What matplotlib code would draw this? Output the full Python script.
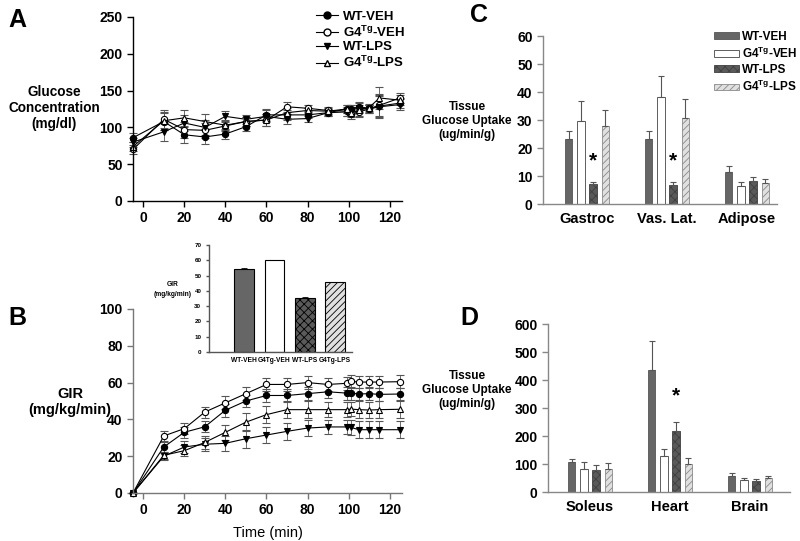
import matplotlib
matplotlib.use('Agg')
import matplotlib.pyplot as plt
from matplotlib.lines import Line2D
import numpy as np

plt.rcParams['font.family'] = ['Liberation Sans', 'DejaVu Sans']
plt.rcParams['font.weight'] = 'bold'
plt.rcParams['mathtext.fontset'] = 'custom'
plt.rcParams['mathtext.bf'] = 'Liberation Sans:bold'
plt.rcParams['mathtext.rm'] = 'Liberation Sans:bold'
plt.rcParams['hatch.linewidth'] = 0.6

# time points (min)
t = [-5, 10, 20, 30, 40, 50, 60, 70, 80, 90, 99, 101, 105, 110, 115, 125]

# panel A: glucose concentration (mg/dl)
glc_wt_veh = [86, 108, 90, 87, 91, 101, 117, 117, 117, 120, 125, 125, 128, 126, 129, 133]
glc_g4_veh = [70, 111, 97, 96, 102, 108, 110, 128, 126, 123, 122, 118, 121, 125, 130, 140]
glc_wt_lps = [80, 94, 106, 100, 115, 111, 115, 111, 112, 120, 121, 124, 126, 125, 128, 131]
glc_g4_lps = [74, 109, 113, 108, 103, 108, 110, 120, 123, 122, 125, 120, 123, 127, 140, 137]
glc_err = [6, 12, 11, 10, 7, 6, 8, 7, 4, 5, 6, 6, 7, 5, 15, 7]

# panel B: GIR (mg/kg/min)
gir_wt_veh = [0, 25, 33, 36, 45, 50, 53, 53, 54, 55, 54.3, 54.3, 53.8, 54, 53.6, 53.8]
gir_g4_veh = [0, 31, 35, 44, 49, 54, 59, 59, 60, 59, 59.6, 60.7, 60.3, 60.3, 60.3, 60.5]
gir_wt_lps = [0, 20, 25, 26.5, 27, 29.5, 31.5, 33.5, 35.3, 35.9, 35.9, 35.7, 34.4, 34.4, 34.4, 34.4]
gir_g4_lps = [0, 20.5, 23, 27.5, 33, 38.5, 42.6, 45.3, 45.3, 45.3, 45.3, 45.6, 45.3, 45.1, 45.3, 45.5]
gir_err_veh = [0, 2.5, 3, 3, 3.5, 3.5, 3.5, 3.5, 3.5, 3.5, 3.5, 3.5, 3.5, 3.5, 3.5, 3.5]
gir_err_lps = [0, 2, 3, 3.5, 4, 5, 4.5, 4.5, 4.5, 4, 4, 4, 4.5, 4.5, 4.5, 4.5]

# inset: mean GIR
inset_labels = ['WT-VEH', 'G4Tg-VEH', 'WT-LPS', 'G4Tg-LPS']
inset_vals = [54.6, 60.0, 35.6, 45.8]
inset_err = [0.6, 0.2, 0.5, 0.2]

# panel C / D: tissue glucose uptake (ug/min/g)
groups_c = ['Gastroc', 'Vas. Lat.', 'Adipose']
tgu_c = {
    'WT-VEH': ([23.2, 23.2, 11.4], [2.9, 2.9, 2.3]),
    'G4-VEH': ([29.8, 38.1, 6.4], [7.0, 7.6, 1.4]),
    'WT-LPS': ([7.2, 6.9, 8.3], [0.6, 0.9, 1.3]),
    'G4-LPS': ([27.7, 30.7, 7.5], [5.9, 6.8, 1.5]),
}
groups_d = ['Soleus', 'Heart', 'Brain']
tgu_d = {
    'WT-VEH': ([107, 435, 56], [12, 103, 13]),
    'G4-VEH': ([83, 130, 44], [25, 24, 7]),
    'WT-LPS': ([80, 217, 40], [15, 32, 5]),
    'G4-LPS': ([83, 101, 50], [22, 22, 8]),
}

legend_names = ['WT-VEH', r'G4$^{\mathbf{Tg}}$-VEH', 'WT-LPS', r'G4$^{\mathbf{Tg}}$-LPS']

W, H = 800, 541
fig = plt.figure(figsize=(W / 100, H / 100), dpi=100)


def px_axes(l, t_, r, b):
    return fig.add_axes([l / W, 1 - b / H, (r - l) / W, (b - t_) / H])


def style(ax, color='#333333', size=10):
    for s in ['top', 'right']:
        ax.spines[s].set_visible(False)
    for s in ['left', 'bottom']:
        ax.spines[s].set_color(color)
        ax.spines[s].set_linewidth(1)
    ax.tick_params(direction='out', length=4, width=1, color=color, labelsize=size)


# line styles: marker, facecolor
lines = [('o', 'black'), ('o', 'white'), ('v', 'black'), ('^', 'white')]

# --- A ---
axA = px_axes(133, 17, 402, 201)
style(axA, 'black')
for (m, fc), y in zip(lines, [glc_wt_veh, glc_g4_veh, glc_wt_lps, glc_g4_lps]):
    axA.errorbar(t, y, yerr=glc_err, color='black', lw=0.8, marker=m, mfc=fc, mec='black',
                 ms=4.5, mew=0.8, elinewidth=0.6, ecolor='#555555', capsize=3, capthick=0.6,
                 clip_on=False)
axA.set_xlim(-5, 126)
axA.set_ylim(0, 250)
axA.set_xticks(range(0, 121, 20))
axA.set_yticks(range(0, 251, 50))
handlesA = [Line2D([], [], color='black', lw=0.8, marker=m, mfc=fc, mec='black', ms=5)
            for m, fc in lines]
axA.legend(handlesA, legend_names, loc='upper left', bbox_to_anchor=(309 / W, 1 - 4 / H),
           bbox_transform=fig.transFigure, frameon=False, fontsize=9.5, handlelength=1.7,
           labelspacing=0.12, handletextpad=0.4, borderpad=0)
fig.text(54 / W, 1 - 108 / H, 'Glucose\nConcentration\n(mg/dl)', ha='center', va='center',
         fontsize=9.8, linespacing=1.15)
fig.text(8 / W, 1 - 20 / H, 'A', fontsize=18, va='center')

# --- B ---
axB = px_axes(133, 309, 402, 493)
style(axB, '#777777')
for (m, fc), y, e in zip(lines, [gir_wt_veh, gir_g4_veh, gir_wt_lps, gir_g4_lps],
                         [gir_err_veh, gir_err_veh, gir_err_lps, gir_err_lps]):
    axB.errorbar(t, y, yerr=e, color='black', lw=0.8, marker=m, mfc=fc, mec='black',
                 ms=4.5, mew=0.8, elinewidth=0.6, ecolor='#555555', capsize=3, capthick=0.6,
                 clip_on=False)
axB.set_xlim(-5, 126)
axB.set_ylim(0, 100)
axB.set_xticks(range(0, 121, 20))
axB.set_yticks(range(0, 101, 20))
axB.set_xlabel('Time (min)', fontsize=10.5, labelpad=6)
fig.text(70 / W, 1 - 402 / H, 'GIR\n(mg/kg/min)', ha='center', va='center', fontsize=10.5,
         linespacing=1.15)
fig.text(8 / W, 1 - 318 / H, 'B', fontsize=18, va='center')

# colours / hatches for the 4 groups
bar_style = [
    dict(color='#666666', edgecolor='#555555', hatch=None),
    dict(color='white', edgecolor='#444444', hatch=None),
    dict(color='#5a5a5a', edgecolor='#404040', hatch='xxxx'),
    dict(color='#e0e0e0', edgecolor='#8a8a8a', hatch='/////'),
]

# --- inset ---
axI = px_axes(209, 245, 352, 352)
style(axI, '#555555')
axI.tick_params(labelsize=4.5, length=2)
xi = np.arange(len(inset_vals))
for i in range(len(inset_vals)):
    st = bar_style[i]
    axI.bar(xi[i], inset_vals[i], width=0.65, color=st['color'], edgecolor='black',
            hatch=st['hatch'], lw=0.8, yerr=[[0], [inset_err[i]]], capsize=2,
            error_kw=dict(elinewidth=0.6, capthick=0.6))
axI.set_xlim(-1.15, 3.55)
axI.set_ylim(0, 70)
axI.set_yticks(range(0, 71, 10))
axI.set_xticks(xi)
axI.set_xticklabels(inset_labels, fontsize=4.8)
axI.tick_params(axis='x', length=0)
fig.text(173 / W, 1 - 289 / H, 'GIR\n(mg/kg/min)', ha='center', va='center', fontsize=4.8,
         linespacing=1.6)


def bar_panel(ax, groups, data, xlim, ylim, yticks):
    style(ax, '#888888')
    x = np.arange(len(groups))
    off = 0.154
    for i, key in enumerate(data):
        vals, errs = data[key]
        st = bar_style[i]
        ax.bar(x + (i - 1.5) * off, vals, width=0.096, color=st['color'], edgecolor=st['edgecolor'],
               hatch=st['hatch'], lw=0.6, yerr=[np.zeros(len(errs)), errs], capsize=2.5,
               error_kw=dict(elinewidth=0.8, capthick=0.8, ecolor='#555555'))
    ax.set_xlim(*xlim)
    ax.set_ylim(*ylim)
    ax.set_yticks(yticks)
    ax.set_xticks(x)
    ax.set_xticklabels(groups, fontsize=10.5)
    ax.tick_params(axis='x', length=0, pad=6)
    return x, off


# --- C ---
axC = px_axes(543, 36, 777, 204)
xc, off = bar_panel(axC, groups_c, tgu_c, (-0.55, 2.375), (0, 60), range(0, 61, 10))
for g in [0, 1]:
    axC.text(xc[g] + 0.5 * off, 12, '*', ha='center', va='bottom', fontsize=15)
handles = [plt.Rectangle((0, 0), 1, 1, facecolor=s['color'], edgecolor=s['edgecolor'],
                         hatch=s['hatch'], lw=0.6) for s in bar_style]
axC.legend(handles, legend_names, loc='upper left', bbox_to_anchor=(708 / W, 1 - 25 / H),
           bbox_transform=fig.transFigure, frameon=False, fontsize=8.5, handlelength=2.1,
           handleheight=0.5, labelspacing=0.25, handletextpad=0.3, borderpad=0)
fig.text(467 / W, 1 - 121 / H, 'Tissue\nGlucose Uptake\n(ug/min/g)', ha='center', va='center',
         fontsize=8.5, linespacing=1.2)
fig.text(470 / W, 1 - 15 / H, 'C', fontsize=18, va='center')

# --- D ---
axD = px_axes(548, 324, 790, 492)
xd, off = bar_panel(axD, groups_d, tgu_d, (-0.525, 2.5), (0, 600), range(0, 601, 100))
axD.text(xd[1] + 0.5 * off, 310, '*', ha='center', va='bottom', fontsize=15)
fig.text(467 / W, 1 - 390 / H, 'Tissue\nGlucose Uptake\n(ug/min/g)', ha='center', va='center',
         fontsize=8.5, linespacing=1.2)
fig.text(460 / W, 1 - 318 / H, 'D', fontsize=18, va='center')

fig.savefig('out.png', dpi=100)
